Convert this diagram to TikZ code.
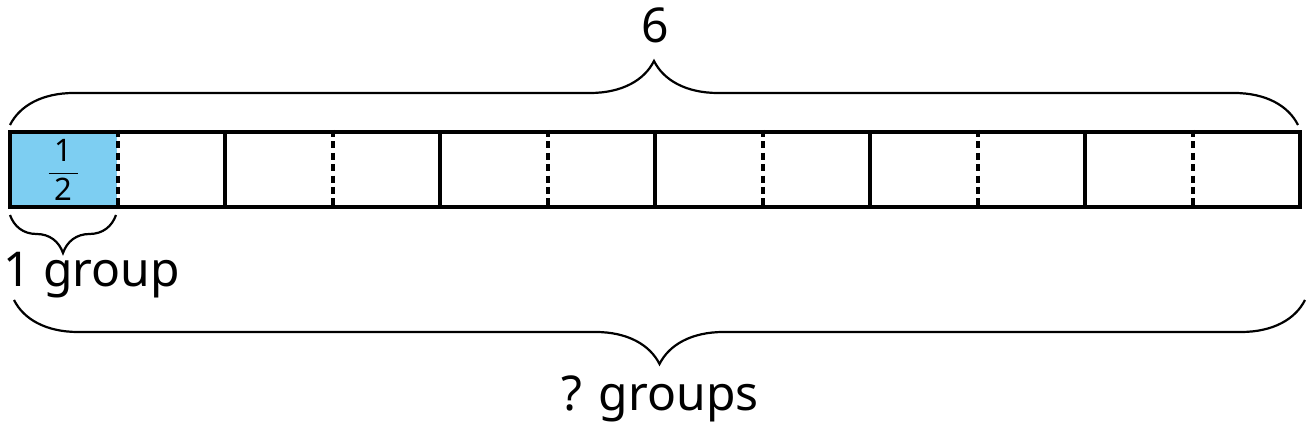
\documentclass[tikz,border=0pt]{standalone}
\usepackage{fontspec}
\setmainfont{Noto Sans}
\usetikzlibrary{positioning,decorations.pathreplacing}
\definecolor{halfblue}{RGB}{125,206,242}

\begin{document}
\begin{tikzpicture}[
    x=0.5pt, y=-0.5pt,
    cell/.style={draw, line width=2pt, minimum width=107.5pt, minimum height=37.5pt, inner sep=0pt},
    halfcut/.style={line width=2pt, dash pattern=on 3.5pt off 2.2pt},
    curly/.style={decorate, line width=1.1pt, decoration={brace, amplitude=#1}},
    label/.style={inner sep=0pt, font=\fontsize{24}{28}\selectfont}
]
\useasboundingbox (0,0) rectangle (1314,431);

% the shaded half
\node[fill=halfblue, minimum width=53.5pt, minimum height=37.5pt, inner sep=0pt,
      font=\fontsize{15.5}{18}\selectfont] (half) at (63.5,170)
    {$\displaystyle\frac{\makebox[15pt]{1}}{\mbox{2}}$};

% six wholes, each cut in half
\foreach \i in {1,...,6} {
    \node[cell] (cell\i) at ({117.5+215*(\i-1)},169.5) {};
    \draw[halfcut] (cell\i.north) -- (cell\i.south);
}

% braces
\coordinate (topL) at (10,125);
\coordinate (topR) at (1298,125);
\draw[curly=32pt] (topL) -- (topR);
\node[label, anchor=base] (whole) at (655,43) {6};

\coordinate (oneL) at (10,215);
\coordinate (oneR) at (116,215);
\draw[curly=19pt] (oneR) -- (oneL);
\node[label, anchor=base west] (onegroup) at (3,287) {1 group};

\coordinate (allL) at (14,300);
\coordinate (allR) at (1305,300);
\draw[curly=32pt] (allR) -- (allL);
\node[label, anchor=base] (groups) at (660,411) {? groups};
\end{tikzpicture}
\end{document}
